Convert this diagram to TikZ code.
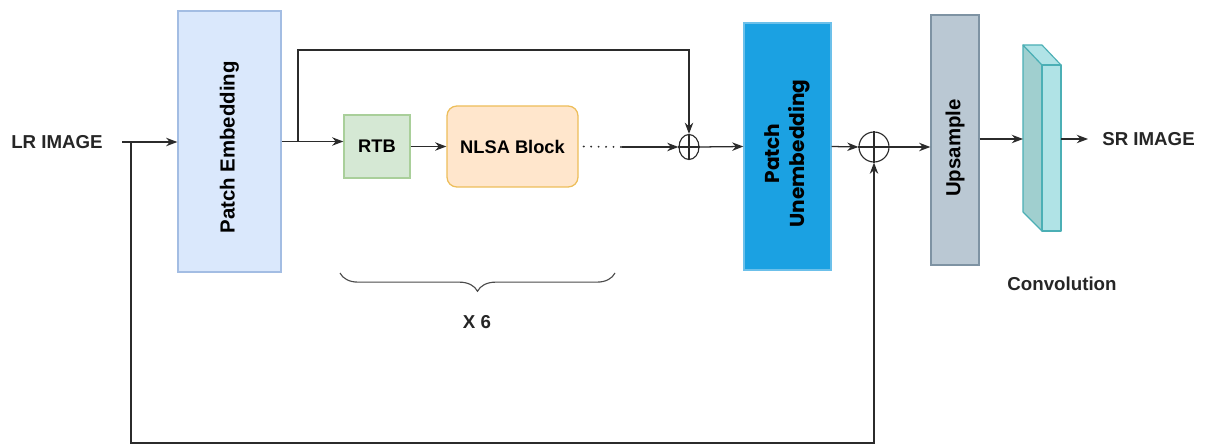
\documentclass[tikz,border=0pt]{standalone}
\usepackage{fontspec}
\setmainfont{Liberation Sans}
\newfontfamily\geofont{Poppins}
\usetikzlibrary{arrows.meta,shapes.geometric,decorations.pathreplacing,calc}

\definecolor{peFill}{HTML}{DAE8FC}
\definecolor{peLine}{HTML}{A3BDE3}
\definecolor{rtbFill}{HTML}{D5E8D4}
\definecolor{rtbLine}{HTML}{A9CF9A}
\definecolor{nlFill}{HTML}{FFE6CC}
\definecolor{nlLine}{HTML}{EDBE5A}
\definecolor{puFill}{HTML}{1BA1E2}
\definecolor{puLine}{HTML}{6CC0EA}
\definecolor{upFill}{HTML}{BAC8D3}
\definecolor{upLine}{HTML}{7E93A3}
\definecolor{cvFront}{HTML}{B0E3E6}
\definecolor{cvSide}{HTML}{A0CFCF}
\definecolor{cvLine}{HTML}{4BAFB5}
\definecolor{wire}{HTML}{2B2B2B}

\tikzset{
  px/.style={x=0.025cm,y=-0.025cm},
  block/.style={draw, line width=0.9pt, inner sep=0pt, font=\fontsize{13}{15}\selectfont\bfseries},
  vtext/.style={rotate=90, font=\fontsize{14.5}{17}\selectfont\bfseries},
  arr/.style={draw=wire, line width=0.9pt, -{Stealth[length=8pt,width=6pt]}},
  wireline/.style={draw=wire, line width=0.9pt},
  label/.style={font=\fontsize{13.3}{15}\selectfont\bfseries, text=black!85},
  sumnode/.style={ellipse, draw=wire, line width=0.8pt, inner sep=0pt, fill=white}
}

\begin{document}
\begin{tikzpicture}[px]
  \useasboundingbox[fill=white] (0,0) rectangle (1205,446);

  % blocks
  \node[block, fill=peFill, draw=peLine, minimum width=103*0.025cm, minimum height=261*0.025cm] (PE) at (229.5,141.5) {};
  \node[vtext] (PEtext) at ($(PE.center)+(0,6)$) {Patch Embedding};

  \node[block, fill=rtbFill, draw=rtbLine, minimum width=66*0.025cm, minimum height=63*0.025cm] (RTB) at (377,146.5) {RTB};

  \node[block, fill=nlFill, draw=nlLine, rounded corners=7pt, minimum width=131*0.025cm, minimum height=81*0.025cm] (NLSA) at (512.5,146.5) {NLSA Block};

  \node[sumnode, minimum width=20*0.025cm, minimum height=25*0.025cm] (S1) at (689,147) {};

  \node[block, fill=puFill, draw=puLine, minimum width=87*0.025cm, minimum height=247*0.025cm] (PU) at (787.5,146.5) {};
  \node[rotate=90, align=center, font=\geofont\fontsize{14.3}{17.5}\selectfont\bfseries] (PUtext) at ($(PU.center)+(0,7)$) {Patch\\Unembedding};

  \node[sumnode, minimum width=30*0.025cm, minimum height=30*0.025cm] (S2) at (874,147) {};

  \node[block, fill=upFill, draw=upLine, minimum width=48*0.025cm, minimum height=250*0.025cm] (UP) at (955,140) {};
  \node[vtext] (UPtext) at ($(UP.center)+(0,8)$) {Upsample};

  % plus signs inside the summation nodes
  \draw[wire, line width=0.8pt] (S1.north) -- (S1.south) (S1.west) -- (S1.east);
  \draw[wire, line width=0.8pt] (S2.north) -- (S2.south) (S2.west) -- (S2.east);

  % convolution slab (3-D box)
  \filldraw[fill=cvSide, draw=cvLine, line width=0.8pt, line join=round]
    (1023,45) -- (1042,65) -- (1042,231) -- (1023,212) -- cycle;
  \filldraw[fill=cvFront, draw=cvLine, line width=0.8pt, line join=round]
    (1023,45) -- (1042,45) -- (1061,65) -- (1042,65) -- cycle;
  \filldraw[fill=cvFront, draw=cvLine, line width=0.8pt, line join=round]
    (1042,65) rectangle (1061,231);
  \coordinate (CVin) at (1023,139);
  \coordinate (CVout) at (1061,139);

  % text labels
  \node[label] (LR) at (57,142) {LR IMAGE};
  \node[label, anchor=west, inner sep=0pt] (SR) at (1102,139) {SR IMAGE};
  \node[label] (CONV) at (1062,284) {Convolution};
  \node[label] (X6) at (477,322) {X 6};

  % main path
  \coordinate (IN) at (122,142);
  \coordinate (SPLIT) at (131,142);
  \coordinate (TAP) at (298,141.5);
  \coordinate (DOTS) at (622,147);

  \draw[arr] (IN) -- (IN -| PE.west);
  \draw[arr] (PE.east) -- (PE.east -| RTB.west);
  \draw[arr] (RTB.east) -- (NLSA.west);
  \draw[wireline, line cap=round, dash pattern=on 0.1pt off 5.2pt, line width=1.4pt] ($(NLSA.east)+(5,0)$) -- (DOTS);
  \draw[arr] (DOTS) -- (S1.west);
  \draw[arr] (S1.east) -- (PU.west);
  \draw[arr] (PU.east) -- (S2.west);
  \draw[arr] (S2.east) -- (S2.east -| UP.west);
  \draw[arr] (UP.east |- CVin) -- (CVin);
  \draw[arr] (CVout) -- ($(SR.west)+(-14,0)$);

  % skip connections
  \draw[arr] (TAP) |- (689,50) -- (S1.north);
  \draw[arr] (SPLIT) |- (874,443) -- (S2.south);

  % repetition brace
  \coordinate (BL) at (340,273);
  \coordinate (BR) at (615,273);
  \draw[draw=black!70, line width=0.8pt, decorate, decoration={brace, mirror, amplitude=13pt}] (BL) -- (BR);
\end{tikzpicture}
\end{document}
